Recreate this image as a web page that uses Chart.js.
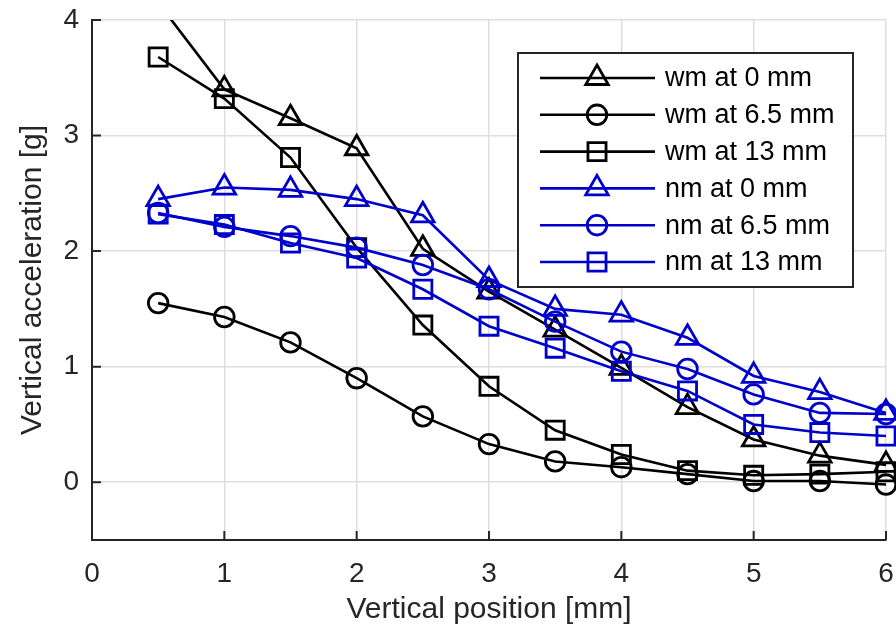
<!DOCTYPE html>
<html>
<head>
<meta charset="utf-8">
<script src="https://cdn.jsdelivr.net/npm/chart.js@4/dist/chart.umd.min.js"></script>
<style>
  html, body { margin: 0; padding: 0; background: #fff; }
  #wrap { width: 896px; height: 633px; }
</style>
</head>
<body>
<div id="wrap"><canvas id="accChart" width="896" height="633"></canvas></div>
<script>
// vertical positions [mm]
const positions = [0.5, 1, 1.5, 2, 2.5, 3, 3.5, 4, 4.5, 5, 5.5, 6];

// vertical acceleration [g]
const wm0  = [4.15, 3.40, 3.15, 2.89, 2.02, 1.65, 1.32, 0.99, 0.65, 0.37, 0.23, 0.15];
const wm65 = [1.55, 1.43, 1.21, 0.90, 0.57, 0.33, 0.18, 0.13, 0.07, 0.01, 0.01, -0.02];
const wm13 = [3.68, 3.32, 2.81, 2.03, 1.36, 0.83, 0.45, 0.24, 0.10, 0.06, 0.07, 0.09];
const nm0  = [2.45, 2.55, 2.53, 2.45, 2.31, 1.75, 1.50, 1.45, 1.25, 0.92, 0.78, 0.60];
const nm65 = [2.33, 2.21, 2.13, 2.03, 1.88, 1.67, 1.39, 1.13, 0.98, 0.76, 0.60, 0.59];
const nm13 = [2.32, 2.23, 2.07, 1.94, 1.67, 1.35, 1.16, 0.96, 0.79, 0.50, 0.43, 0.40];

const seriesLabels = ['wm at 0 mm', 'wm at 6.5 mm', 'wm at 13 mm', 'nm at 0 mm', 'nm at 6.5 mm', 'nm at 13 mm'];
const xTicks = [0, 1, 2, 3, 4, 5, 6];
const yTicks = [0, 1, 2, 3, 4];

(function() {
  const canvas = document.getElementById('accChart');
  const FONT = '"Liberation Sans", Arial, sans-serif';
  const AXIS = '#262626';
  const BLUE = '#0000cc';

  const values = [wm0, wm65, wm13, nm0, nm65, nm13];
  const colors = ['#000', '#000', '#000', BLUE, BLUE, BLUE];
  const styles = ['triangle', 'circle', 'rect', 'triangle', 'circle', 'rect'];
  const radii = { triangle: 13, circle: 9.8, rect: 12.8 };

  const datasets = values.map((vals, i) => ({
    label: seriesLabels[i],
    data: positions.map((p, k) => ({ x: p, y: vals[k] })),
    borderColor: colors[i],
    borderWidth: 2.6,
    pointStyle: styles[i],
    pointRadius: radii[styles[i]],
    pointBorderWidth: 2.8,
    pointBorderColor: colors[i],
    pointBackgroundColor: 'rgba(0,0,0,0)',
    tension: 0,
    order: values.length - i,
    clip: { left: 20, top: 0, right: 20, bottom: 20 }
  }));

  // inward ticks + boxed legend, drawn on top like the original
  const framePlugin = {
    id: 'frame',
    afterDatasetsDraw(chart) {
      const { ctx, chartArea: a, scales: { x, y } } = chart;
      ctx.save();
      ctx.strokeStyle = AXIS;
      ctx.lineWidth = 2;
      ctx.beginPath();
      x.ticks.forEach(t => {
        const px = x.getPixelForValue(t.value);
        ctx.moveTo(px, a.bottom); ctx.lineTo(px, a.bottom - 9);
      });
      y.ticks.forEach(t => {
        const py = y.getPixelForValue(t.value);
        ctx.moveTo(a.left, py); ctx.lineTo(a.left + 9, py);
      });
      ctx.stroke();

      const bx = a.right - 368, by = a.top + 33, bw = 335, bh = 234;
      ctx.fillStyle = '#fff';
      ctx.fillRect(bx, by, bw, bh);
      ctx.strokeStyle = AXIS;
      ctx.lineWidth = 2;
      ctx.strokeRect(bx, by, bw, bh);

      ctx.font = '27px ' + FONT;
      ctx.textBaseline = 'middle';
      chart.data.datasets.forEach((ds, i) => {
        const cy = by + 25 + i * 36.8;
        ctx.strokeStyle = ds.borderColor;
        ctx.lineWidth = ds.borderWidth;
        ctx.beginPath();
        ctx.moveTo(bx + 22, cy); ctx.lineTo(bx + 137, cy);
        ctx.stroke();
        ctx.lineWidth = ds.pointBorderWidth;
        ctx.fillStyle = 'rgba(0,0,0,0)';
        Chart.helpers.drawPoint(ctx, {
          pointStyle: ds.pointStyle, radius: ds.pointRadius, rotation: 0, borderWidth: ds.pointBorderWidth
        }, bx + 79, cy);
        ctx.fillStyle = '#000';
        ctx.fillText(ds.label, bx + 147, cy + 1);
      });
      ctx.restore();
    }
  };

  new Chart(canvas.getContext('2d'), {
    type: 'line',
    data: { datasets },
    options: {
      responsive: false,
      animation: false,
      devicePixelRatio: 1,
      layout: { autoPadding: false, padding: { top: 20, right: 10, left: 0, bottom: 0 } },
      plugins: { legend: { display: false }, tooltip: { enabled: false } },
      scales: {
        x: {
          type: 'linear', min: 0, max: 6,
          afterBuildTicks: s => { s.ticks = xTicks.map(v => ({ value: v })); },
          afterFit: s => { s.height = 93; s.paddingLeft = 0; s.paddingRight = 0; },
          grid: { color: '#dedede', lineWidth: 1.5, drawTicks: false },
          border: { display: true, color: AXIS, width: 2 },
          ticks: { color: AXIS, font: { family: FONT, size: 28 }, padding: 17, maxRotation: 0 },
          title: { display: true, text: 'Vertical position [mm]', color: AXIS,
                   font: { family: FONT, size: 30 }, padding: { top: 0, bottom: 5 } }
        },
        y: {
          type: 'linear', min: -0.5, max: 4,
          afterBuildTicks: s => { s.ticks = yTicks.map(v => ({ value: v })); },
          afterFit: s => { s.width = 92; s.paddingTop = 0; s.paddingBottom = 0; },
          grid: { color: '#dedede', lineWidth: 1.5, drawTicks: false },
          border: { display: true, color: AXIS, width: 2 },
          ticks: { color: AXIS, font: { family: FONT, size: 28 }, padding: 13 },
          title: { display: true, text: 'Vertical acceleration [g]', color: AXIS,
                   font: { family: FONT, size: 30 }, padding: { top: 15, bottom: 0 } }
        }
      }
    },
    plugins: [framePlugin]
  });
})();
</script>
</body>
</html>
